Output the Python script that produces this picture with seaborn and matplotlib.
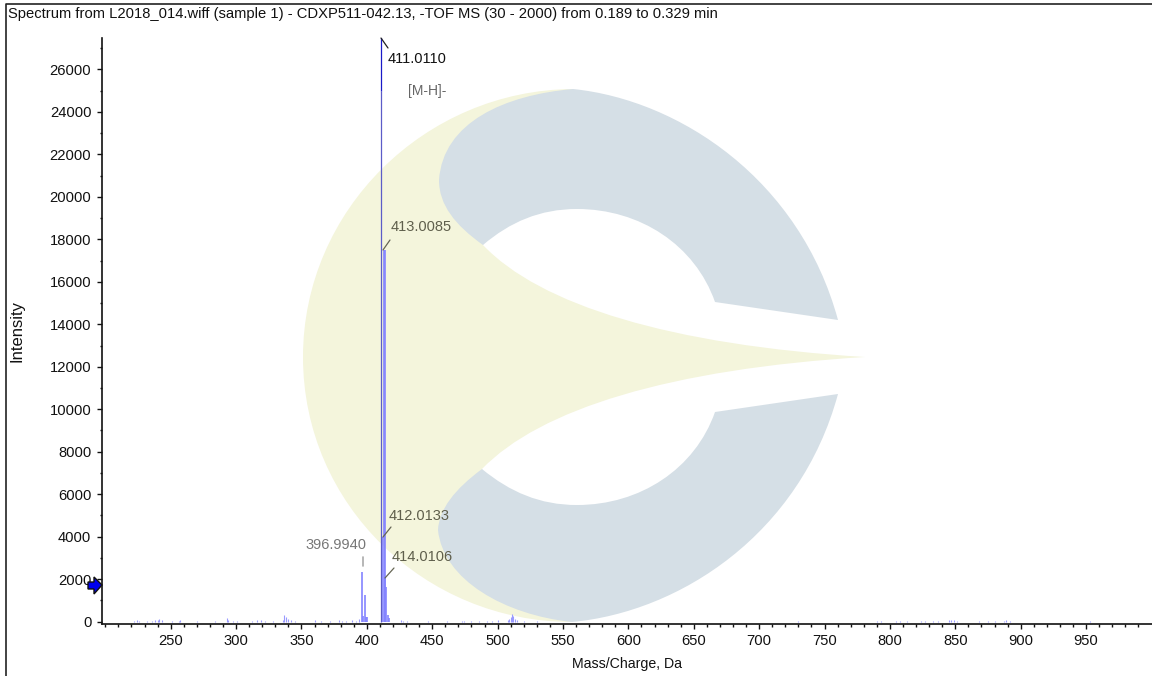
import matplotlib
matplotlib.use("Agg")
import matplotlib.pyplot as plt
import seaborn as sns
import pandas as pd
from matplotlib.path import Path
from matplotlib.patches import PathPatch, Polygon

TITLE = "Spectrum from L2018_014.wiff (sample 1) - CDXP511-042.13, -TOF MS (30 - 2000) from 0.189 to 0.329 min"
XLABEL = "Mass/Charge, Da"
YLABEL = "Intensity"

base_mz = [411.0, 411.0]
base_int = [0, 25000]
tip_int = [25000, 28000]

main_mz = [396.6, 397.4, 398.7, 399.6, 400.5, 411.9, 413.0, 413.6, 414.0, 414.9, 416.0, 417.0]
main_int = [2350, 260, 1270, 240, 200, 3990, 17500, 17500, 2050, 1650, 300, 170]

noise_mz = [222, 224, 226, 232, 236, 238, 240, 241, 243, 251, 256, 257, 270, 284, 293, 294, 298, 301, 312, 316,
            319, 322, 328, 336, 337, 338, 340, 342, 345, 360, 365, 372, 379, 381, 384, 389, 392, 394,
            426, 428, 431, 447, 461, 473, 474, 480, 486, 492, 496, 500, 508, 509, 510, 511, 512, 513, 515, 520, 530,
            730, 790, 793, 805, 808, 813, 824, 827, 833, 837, 845, 847, 849, 851, 868, 875, 880, 887, 889, 892, 953]
noise_int = [30, 60, 40, 40, 50, 90, 60, 130, 70, 40, 40, 70, 30, 40, 170, 60, 50, 40, 40, 60,
             70, 40, 50, 60, 300, 240, 110, 70, 40, 60, 30, 40, 60, 50, 30, 90, 50, 110,
             70, 50, 40, 30, 30, 50, 40, 50, 30, 40, 50, 60, 90, 150, 230, 340, 280, 120, 60, 30, 30,
             30, 50, 30, 50, 30, 30, 40, 30, 40, 30, 60, 90, 100, 50, 30, 30, 40, 50, 60, 30, 40]

peak_labels = ["411.0110", "[M-H]-", "413.0085", "412.0133", "414.0106", "396.9940"]

W, H = 1152, 676
sns.set_theme(style="white", rc={"font.family": ["Liberation Sans", "DejaVu Sans"]})
fig = plt.figure(figsize=(W / 100, H / 100), dpi=100, facecolor="white")

# --- watermark layer, in pixel coordinates
bg = fig.add_axes([0, 0, 1, 1], zorder=0)
bg.set_xlim(0, W); bg.set_ylim(H, 0); bg.axis("off")
C, L = Path.CURVE4, Path.LINETO
def curve(start, *segs):
    v, c = [start], [Path.MOVETO]
    for s in segs:
        v += list(s)
        c += [C] * 3 if len(s) == 3 else [L]
    return Path(v, c)
YEL, GRY = "#f4f5dc", "#d5dfe6"
yellow = curve((865, 357),
               [(670, 345), (540, 305), (483, 245)],
               [(520, 140), (573, 89), (573, 89)],
               [(425, 90), (303, 210), (303, 357)],
               [(303, 505), (425, 622), (572, 622)],
               [(540, 590), (510, 530), (482, 469)],
               [(540, 409), (670, 369), (865, 357)])
bg.add_patch(PathPatch(yellow, fc=YEL, ec="none"))
upper = curve((573, 89),
              [(680, 100), (800, 180), (838, 320)],
              [(715, 302)],
              [(695, 245), (640, 209), (577, 209)],
              [(540, 209), (510, 222), (483, 245)],
              [(455, 225), (439, 205), (439, 180)],
              [(443, 122), (505, 95), (573, 89)])
lower = curve((572, 622),
              [(680, 612), (800, 534), (838, 394)],
              [(715, 412)],
              [(695, 469), (640, 505), (577, 505)],
              [(540, 505), (510, 492), (482, 469)],
              [(455, 489), (439, 509), (438, 530)],
              [(443, 580), (505, 615), (572, 622)])
bg.add_patch(PathPatch(upper, fc=GRY, ec="none"))
bg.add_patch(PathPatch(lower, fc=GRY, ec="none"))
bg.plot([6, 6, W], [H, 4, 4], color="#222222", lw=1.2)

# --- main axes
x0, x1, ytop, ybot = 101.5, 1152, 38.3, 623.5
ax = fig.add_axes([x0 / W, 1 - ybot / H, (x1 - x0) / W, (ybot - ytop) / H], zorder=1)
ax.patch.set_alpha(0)

def stems(mz, inten):
    return pd.DataFrame({
        "mz": [m for m in mz for _ in (0, 1)],
        "intensity": [v for i in inten for v in (0, i)],
        "peak": [k for k in range(len(mz)) for _ in (0, 1)],
    })

sns.lineplot(data=stems(noise_mz, noise_int), x="mz", y="intensity", units="peak", estimator=None,
             color="#9a9aff", lw=0.8, ax=ax, legend=False, solid_capstyle="butt")
sns.lineplot(data=stems(main_mz, main_int), x="mz", y="intensity", units="peak", estimator=None,
             color="#8484ff", lw=1.2, ax=ax, legend=False, solid_capstyle="butt")
sns.lineplot(data=pd.DataFrame({"mz": base_mz, "intensity": base_int}), x="mz", y="intensity",
             color="#5c5cc8", lw=0.9, ax=ax, legend=False, estimator=None, solid_capstyle="butt")
sns.lineplot(data=pd.DataFrame({"mz": base_mz, "intensity": tip_int}), x="mz", y="intensity",
             color="#1a1ac8", lw=0.9, ax=ax, legend=False, estimator=None, solid_capstyle="butt")

ax.set_xlim(197.1, 1000.4)
ax.set_ylim(-85, 27460)
ax.set_xticks(range(250, 951, 50))
ax.set_xticks(range(200, 1000, 10), minor=True)
ax.set_yticks(range(0, 26001, 2000))
ax.set_yticks(range(0, 27001, 1000), minor=True)
ax.tick_params(axis="both", which="major", length=3.3, width=1, color="#111111", labelsize=10.6,
               labelcolor="#111111", bottom=True, left=True, pad=4.0)
ax.tick_params(axis="both", which="minor", length=1.8, width=1, color="#111111", bottom=True, left=True)
for s in ("top", "right"):
    ax.spines[s].set_visible(False)
for s in ("left", "bottom"):
    ax.spines[s].set_color("#111111")
    ax.spines[s].set_linewidth(1.2)
ax.set_xlabel("")
ax.set_ylabel("")

# --- overlay: texts, leaders, arrow, pixel coordinates
fg = fig.add_axes([0, 0, 1, 1], zorder=2)
fg.set_xlim(0, W); fg.set_ylim(H, 0); fg.axis("off"); fg.patch.set_alpha(0)
fg.text(8, 14, TITLE, fontsize=10.66, color="#111111", va="center", ha="left")
fg.text(627.5, 664, XLABEL, fontsize=10.2, color="#111111", va="center", ha="center")
fg.text(16.5, 331, YLABEL, fontsize=12, color="#111111", va="center", ha="center", rotation=90)

label_pos = [(388, 59), (408, 91), (391, 227), (389, 516), (392, 557), (305, 545)]
label_col = ["#111111", "#666666", "#5f5f4c", "#5f5f4c", "#5f5f4c", "#777777"]
for t, (x, y), c in zip(peak_labels, label_pos, label_col):
    fg.text(x, y, t, fontsize=10.55 if t != "[M-H]-" else 10, color=c, va="center", ha="left")

leaders = [((381, 38), (388, 48), "#222222", 0.9), ((383, 250), (390, 240), "#666655", 0.9),
           ((383, 537), (391, 527), "#666655", 0.9), ((385, 578), (394, 568), "#666655", 0.9),
           ((363.3, 556.5), (363.3, 565.5), "#aaaaaa", 1.2)]
for a, b, c, w in leaders:
    fg.plot([a[0], b[0]], [a[1], b[1]], color=c, lw=w)

fg.add_patch(Polygon([(88, 582), (94, 582), (94, 577), (102, 585), (94, 594), (94, 589), (88, 589)],
                     closed=True, fc="#0000ee", ec="#111111", lw=1))

fig.savefig("out.png", dpi=100)
